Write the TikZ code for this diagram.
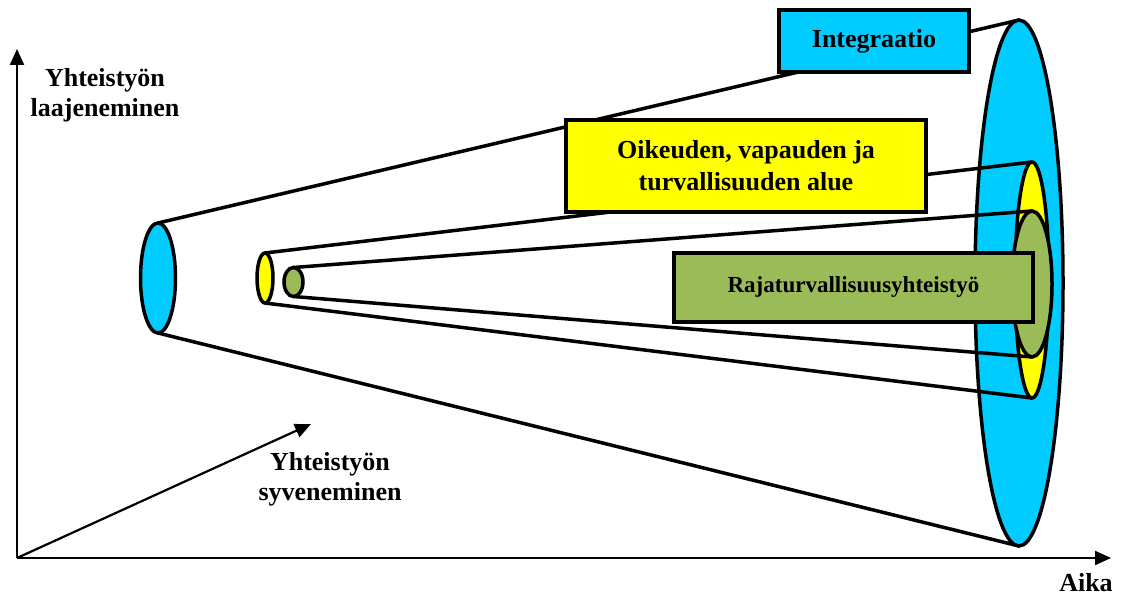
\documentclass[tikz,border=0pt]{standalone}
\usepackage{fontspec}
\setmainfont{Liberation Serif}
\usetikzlibrary{shapes.geometric,arrows.meta}
\definecolor{cblue}{HTML}{00CCFF}
\definecolor{cyel}{HTML}{FFFF00}
\definecolor{cgreen}{HTML}{9BBB59}
\tikzset{
  ell/.style={ellipse,draw=black,line width=3.5pt,inner sep=0pt,outer sep=0pt},
  cone/.style={line width=3.5pt},
  lbox/.style={draw=black,line width=3.5pt,inner sep=0pt,outer sep=0pt,font=\bfseries\fontsize{26}{32}\selectfont,align=center},
  lbl/.style={font=\bfseries\fontsize{26}{30}\selectfont,align=center,inner sep=0pt},
  axis/.style={line width=2.2pt,-{Triangle[length=16pt,width=14pt]}}
}
\begin{document}
\begin{tikzpicture}[x=1pt,y=-1pt]
\useasboundingbox (0,0) rectangle (1127,596);
% axes
\coordinate (O) at (17,558);
\coordinate (ytip) at (17,49);
\coordinate (xtip) at (1111,558);
\coordinate (dtip) at (311,424);
\draw[axis] (O) -- (ytip);
\draw[axis] (O) -- (xtip);
\draw[axis] (O) -- (dtip);
\node[lbl] (ylab) at (105,95) {Yhteistyön\\laajeneminen};
\node[lbl] (dlab) at (330,479) {Yhteistyön\\syveneminen};
\node[lbl] (xlab) at (1086,583) {Aika};
% blue cone
\node[ell,fill=cblue,minimum width=88pt,minimum height=526pt] (bR) at (1019,283) {};
\node[ell,fill=cblue,minimum width=35pt,minimum height=110pt] (bL) at (158,278) {};
\draw[cone] (bL.north) -- (bR.north);
\draw[cone] (bL.south) -- (bR.south);
% yellow cone
\node[ell,fill=cyel,minimum width=34pt,minimum height=236pt] (yR) at (1032,280) {};
\node[ell,fill=cyel,minimum width=16pt,minimum height=50pt] (yL) at (265,278) {};
\draw[cone] (yL.north) -- (yR.north);
\draw[cone] (yL.south) -- (yR.south);
% green cone
\node[ell,fill=cgreen,minimum width=40pt,minimum height=146pt] (gR) at (1032,284) {};
\node[ell,fill=cgreen,minimum width=19pt,minimum height=29pt] (gL) at (293.5,282) {};
\draw[cone] (gL.north) -- (gR.north);
\draw[cone] (gL.south) -- (gR.south);
% label boxes
\node[lbox,fill=cblue,minimum width=190pt,minimum height=62pt] (int) at (874,41) {Integraatio};
\node[lbox,fill=cyel,minimum width=360pt,minimum height=92pt] (ovt) at (746,166) {Oikeuden, vapauden ja\\turvallisuuden alue};
\node[lbox,fill=cgreen,minimum width=359pt,minimum height=69pt,font=\bfseries\fontsize{23}{27}\selectfont] (raj) at (853.5,287.5) {\raisebox{5pt}{Rajaturvallisuusyhteistyö}};
\end{tikzpicture}
\end{document}
